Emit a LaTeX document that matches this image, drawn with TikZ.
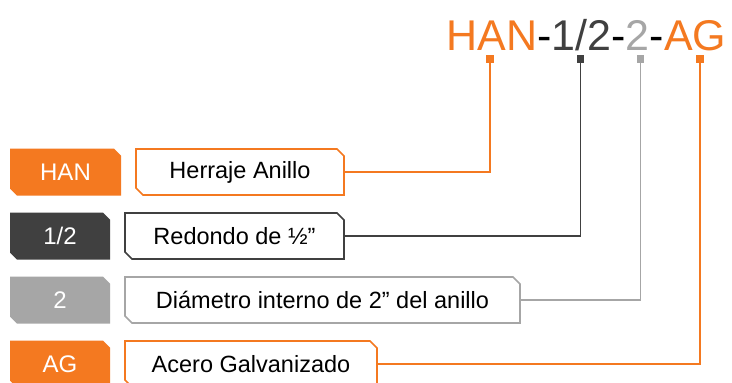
\documentclass[tikz,border=0pt]{standalone}
\usepackage{fontspec}
\setmainfont{Liberation Sans}
\definecolor{corange}{HTML}{F47920}
\definecolor{cdark}{HTML}{404040}
\definecolor{cgray}{HTML}{A6A6A6}
\newcommand{\tagfont}{\fontsize{24}{26}\selectfont}
\newcommand{\labfont}{\fontsize{23.5}{26}\selectfont}
\newcommand{\bigfont}{\fontsize{43}{43}\selectfont}
\newcommand{\chamfpath}[2]{%
  \path[#2] (#1.north west) -- ([xshift=-7pt]#1.north east) -- ([yshift=-7pt]#1.north east)
    -- (#1.south east) -- ([xshift=7pt]#1.south west) -- ([yshift=7pt]#1.south west) -- cycle;}
\pgfdeclarelayer{back}
\pgfdeclarelayer{mid}
\pgfsetlayers{back,mid,main}
\begin{document}
\begin{tikzpicture}[x=1pt,y=-1pt,
  tag/.style={rectangle, text=white, font=\tagfont, minimum height=47pt, inner sep=0pt, outer sep=0pt},
  lbl/.style={rectangle, text=black, font=\labfont, minimum height=46pt, inner sep=0pt, outer sep=0pt},
  tagfill/.style={fill=#1},
  lbldraw/.style={draw=#1, fill=white, line width=1.6pt},
  sq/.style={rectangle, fill=#1, minimum size=7.5pt, inner sep=0pt, outer sep=0pt},
  conn/.style={draw=#1, line width=1.8pt}]
\useasboundingbox (0,0) rectangle (732,383);
\clip (0,0) rectangle (732,383);
\begin{pgfonlayer}{back}
\fill[white] (0,0) rectangle (732,383);
\end{pgfonlayer}
% code
\node[anchor=base west, inner sep=0pt, font=\bigfont] (code) at (446.5,50)
  {\textcolor{corange}{HAN}-\textcolor{cdark}{1/2}-\textcolor{cgray}{2}-\textcolor{corange}{AG}};
% markers
\node[sq=corange] (sqh) at (490,59) {};
\node[sq=cdark]   (sqr) at (580.5,59) {};
\node[sq=cgray]   (sqd) at (640.5,59) {};
\node[sq=corange] (sqa) at (700,59) {};
% tags
\node[tag, minimum width=111pt] (han) at (65.5,172) {HAN};
\node[tag, minimum width=100pt] (red) at (60,236) {1/2};
\node[tag, minimum width=100pt] (dia) at (60,300) {2};
\node[tag, minimum width=100pt] (ag) at (60,364) {AG};
% labels
\node[lbl, minimum width=208pt] (hanl) at (240,172) {Herraje Anillo};
\node[lbl, minimum width=219pt] (redl) at (234.5,236) {Redondo de ½”};
\node[lbl, minimum width=395pt] (dial) at (322.5,300) {Diámetro interno de 2” del anillo};
\node[lbl, minimum width=252pt] (agl) at (251,364) {Acero Galvanizado};
\begin{pgfonlayer}{mid}
\chamfpath{han}{tagfill=corange}
\chamfpath{red}{tagfill=cdark}
\chamfpath{dia}{tagfill=cgray}
\chamfpath{ag}{tagfill=corange}
\chamfpath{hanl}{lbldraw=corange}
\chamfpath{redl}{lbldraw=cdark}
\chamfpath{dial}{lbldraw=cgray}
\chamfpath{agl}{lbldraw=corange}
% connectors
\draw[conn=corange] (sqh.south) |- (hanl.east);
\draw[conn=cdark] (sqr.south) |- (redl.east);
\draw[conn=cgray] (sqd.south) |- (dial.east);
\draw[conn=corange] (sqa.south) |- (agl.east);
\end{pgfonlayer}
\end{tikzpicture}
\end{document}
